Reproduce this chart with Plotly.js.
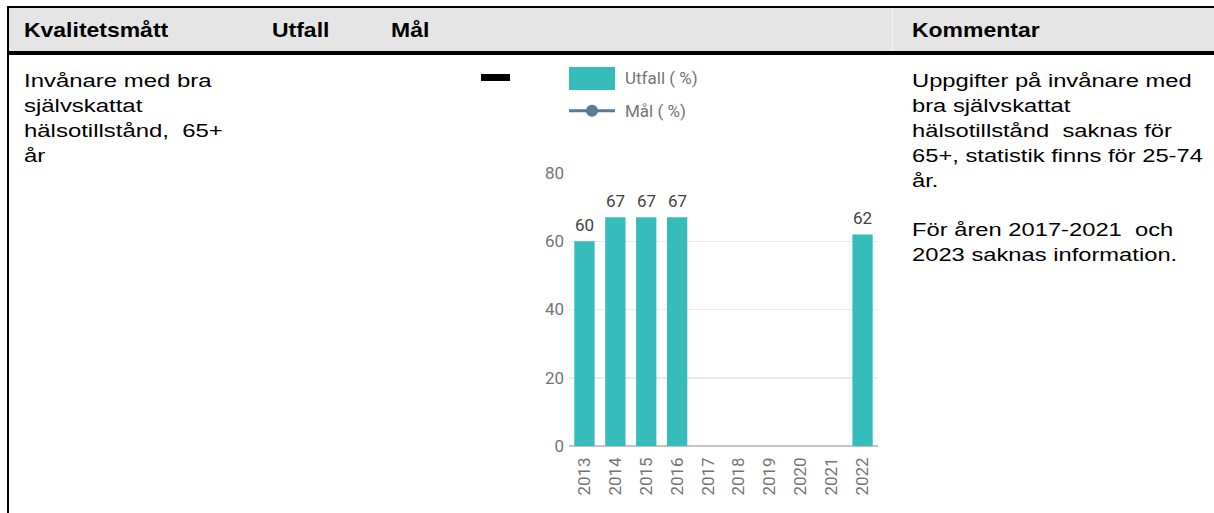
<!DOCTYPE html>
<html>
<head>
<meta charset="utf-8">
<script src="https://cdn.plot.ly/plotly-3.0.1.min.js"></script>
<style>
  html, body { margin:0; padding:0; background:#fff; }
  body { width:1214px; height:513px; position:relative; overflow:hidden; font-family:"Liberation Sans", Arial, sans-serif; }
  .abs { position:absolute; }
  .txt { position:absolute; white-space:pre; line-height:1; transform-origin:0 0; color:#000; }
</style>
</head>
<body>
<div class="abs" style="left:9px;top:8px;width:1205px;height:43px;background:#e5e5e5;"></div>
<div class="abs" style="left:892px;top:8px;width:1px;height:43px;background:#f6f6f6;"></div>
<div class="abs" style="left:7px;top:6px;width:1207px;height:2px;background:#000;"></div>
<div class="abs" style="left:7px;top:6px;width:2px;height:507px;background:#000;"></div>
<div class="abs" style="left:7px;top:51px;width:1207px;height:4px;background:#000;"></div>
<div class="abs" style="left:481px;top:74px;width:29px;height:7px;background:#000;"></div>
<div id="texts"></div>
<div id="chart" class="abs" style="left:500px;top:55px;width:400px;height:458px;"></div>
<script>
// ---- data ----
const years = ["2013","2014","2015","2016","2017","2018","2019","2020","2021","2022"];
const utfall = [60, 67, 67, 67, null, null, null, null, null, 62];
const malYears = [];
const mal = [];
const yTicks = [0, 20, 40, 60, 80];

const headers = ["Kvalitetsmått", "Utfall", "Mål", "Kommentar"];
const measureLines = ["Invånare med bra", "självskattat", "hälsotillstånd,  65+", "år"];
const commentLines1 = ["Uppgifter på invånare med", "bra självskattat", "hälsotillstånd  saknas för", "65+, statistik finns för 25-74", "år."];
const commentLines2 = ["För åren 2017-2021  och", "2023 saknas information."];
const legendNames = ["Utfall ( %)", "Mål ( %)"];

// ---- table text ----
const tc = document.getElementById('texts');
function put(str, x, baseline, size, bold, sx) {
  const d = document.createElement('div');
  d.className = 'txt';
  d.textContent = str;
  d.style.left = x + 'px';
  d.style.top = (baseline - 0.8465 * size) + 'px';
  d.style.fontSize = size + 'px';
  d.style.fontWeight = bold ? 'bold' : 'normal';
  d.style.transform = 'scaleX(' + sx + ')';
  tc.appendChild(d);
}
const hx = [23.5, 271.5, 390.5, 911.5];
headers.forEach((h, i) => put(h, hx[i], 37, 20.5, true, 1.12));
measureLines.forEach((l, i) => put(l, 23.5, 88 + i * 25, 18.7, false, 1.28));
commentLines1.forEach((l, i) => put(l, 911.5, 88 + i * 25, 18.7, false, 1.27));
commentLines2.forEach((l, i) => put(l, 911.5, 236.7 + i * 25, 18.7, false, 1.27));

// ---- chart ----
const M = {l:69, r:22, t:118, b:67};
const W = 400, H = 458;
const PW = W - M.l - M.r, PH = H - M.t - M.b;
const px = v => (v - (500 + M.l)) / PW;      // page x -> paper
const py = v => ((55 + M.t + PH) - v) / PH;   // page y -> paper
const teal = '#36bcbb', slate = '#587a95';

const traces = [
  {type:'bar', x:years, y:utfall, name:legendNames[0], marker:{color:teal}, showlegend:false, hoverinfo:'x+y'},
  {type:'scatter', mode:'lines+markers', x:malYears, y:mal, name:legendNames[1], line:{color:slate, width:3}, marker:{color:slate, size:12}, showlegend:false}
];

const annotations = [];
years.forEach((yr, i) => {
  if (utfall[i] !== null) {
    annotations.push({x:i, y:utfall[i], xref:'x', yref:'y', text:String(utfall[i]), showarrow:false,
      yanchor:'bottom', yshift:4, font:{family:'Roboto', size:17, color:'#424242'}});
  }
});
annotations.push({xref:'paper', yref:'paper', x:px(623), y:py(78.5), text:legendNames[0], showarrow:false,
  xanchor:'left', yanchor:'middle', font:{family:'Roboto', size:17, color:'#757575'}});
annotations.push({xref:'paper', yref:'paper', x:px(623), y:py(110.7), text:legendNames[1], showarrow:false,
  xanchor:'left', yanchor:'middle', font:{family:'Roboto', size:17, color:'#757575'}});

const shapes = [
  {type:'rect', xref:'paper', yref:'paper', x0:px(569), x1:px(615), y0:py(90), y1:py(67), fillcolor:teal, line:{width:0}},
  {type:'line', xref:'paper', yref:'paper', x0:px(569), x1:px(615), y0:py(110.7), y1:py(110.7), line:{color:slate, width:3}},
  {type:'circle', xref:'paper', yref:'paper', xsizemode:'pixel', ysizemode:'pixel', xanchor:px(592), yanchor:py(110.7),
    x0:-6, x1:6, y0:-6, y1:6, fillcolor:slate, line:{width:0}}
];

const layout = {
  width: W, height: H,
  margin: M,
  paper_bgcolor:'rgba(0,0,0,0)', plot_bgcolor:'rgba(0,0,0,0)',
  bargap: 0.343,
  showlegend:false,
  font:{family:'Roboto', size:17, color:'#757575'},
  xaxis:{type:'category', categoryorder:'array', categoryarray:years, range:[-0.5, years.length - 0.5],
    tickangle:-90, showgrid:false, zeroline:false, showline:false, ticks:'', fixedrange:true, ticklabelstandoff:7,
    tickfont:{family:'Roboto', size:17, color:'#757575'}},
  yaxis:{range:[0, 80], tickvals:yTicks, ticktext:yTicks.map(String), showgrid:true, gridcolor:'#e8ebef', gridwidth:1.5,
    zeroline:true, zerolinecolor:'#c4c4c4', zerolinewidth:2, ticks:'', fixedrange:true, ticklabelstandoff:4,
    tickfont:{family:'Roboto', size:17, color:'#757575'}},
  annotations: annotations,
  shapes: shapes
};
Plotly.newPlot('chart', traces, layout, {displayModeBar:false, staticPlot:true});
</script>
</body>
</html>
